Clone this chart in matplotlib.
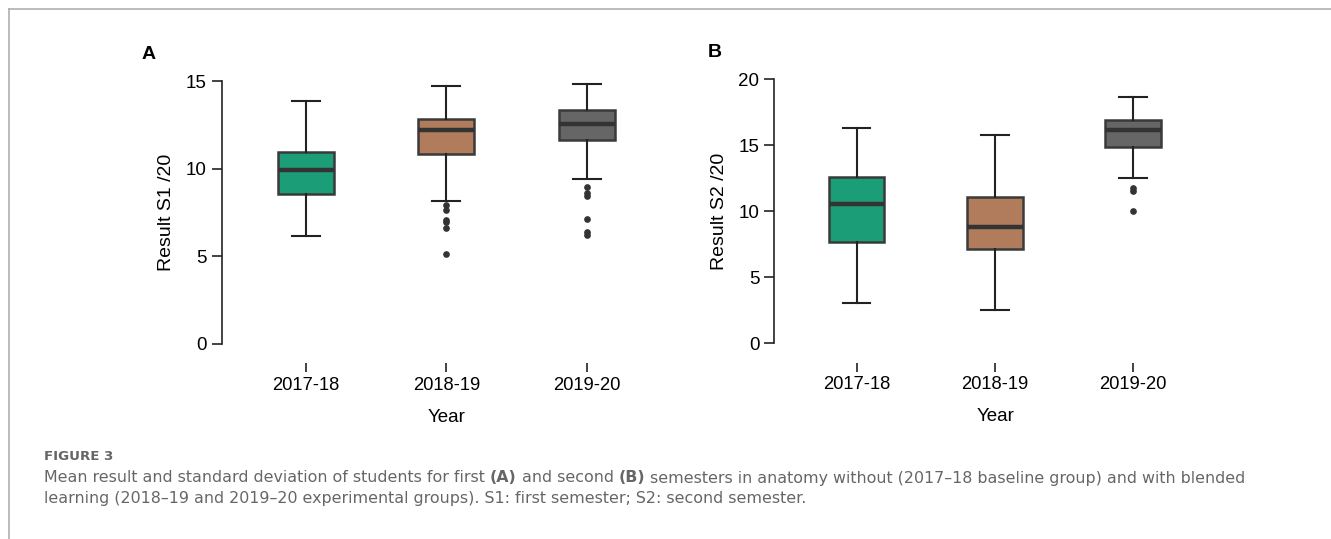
import matplotlib
matplotlib.use("Agg")
import matplotlib.pyplot as plt
from matplotlib.lines import Line2D

plt.rcParams['font.family'] = ['Liberation Sans', 'DejaVu Sans']

years = ['2017-18', '2018-19', '2019-20']
colors = ['#1b9e77', '#b07c5c', '#666666']

# panel A: semester 1 (whislo, q1, med, q3, whishi)
s1_lo = [6.18, 8.18, 9.39]
s1_q1 = [8.56, 10.86, 11.65]
s1_med = [9.93, 12.2, 12.53]
s1_q3 = [10.97, 12.83, 13.35]
s1_hi = [13.84, 14.73, 14.85]
s1_out = [[], [7.93, 7.64, 7.07, 6.98, 6.6, 5.13], [8.97, 8.6, 8.44, 7.13, 6.37, 6.22]]

# panel B: semester 2
s2_lo = [3.05, 2.5, 12.5]
s2_q1 = [7.7, 7.17, 14.87]
s2_med = [10.56, 8.84, 16.16]
s2_q3 = [12.58, 11.1, 16.92]
s2_hi = [16.33, 15.76, 18.66]
s2_out = [[], [], [11.74, 11.56, 10.05]]

W, H = 1331, 539
fig = plt.figure(figsize=(W / 100, H / 100), dpi=100)


def make_panel(rect, lo, q1, med, q3, hi, out, ymax, yticks, ylab, letter, letter_dx):
    left, right, bottom, top, x_lo = rect
    ax = fig.add_axes([left / W, 1 - bottom / H, (right - left) / W, (bottom - top) / H])
    stats = []
    for i in range(len(years)):
        stats.append(dict(whislo=lo[i], q1=q1[i], med=med[i], q3=q3[i],
                          whishi=hi[i], fliers=out[i]))
    bp = ax.bxp(stats, positions=[1, 2, 3], widths=0.4, capwidths=0.2,
                patch_artist=True,
                boxprops=dict(edgecolor='#3a3a3a', linewidth=1.8),
                medianprops=dict(color='#333333', linewidth=3.2, solid_capstyle='butt'),
                whiskerprops=dict(color='#222222', linewidth=1.5),
                capprops=dict(color='#222222', linewidth=1.5),
                flierprops=dict(marker='o', markerfacecolor='#333333',
                                markeredgecolor='#333333', markersize=3.8))
    for patch, c in zip(bp['boxes'], colors):
        patch.set_facecolor(c)
    ax.set_xlim(x_lo, 3.6)
    ax.set_ylim(0, ymax)
    ax.set_yticks(yticks)
    ax.set_xticks([1, 2, 3])
    ax.set_xticklabels(years)
    for s in ['top', 'right', 'bottom']:
        ax.spines[s].set_visible(False)
    ax.spines['left'].set_color('#222222')
    ax.spines['left'].set_linewidth(1.2)
    ax.spines['bottom'].set_position(('outward', 14))
    ax.tick_params(axis='y', length=7.2, width=1.2, color='#222222', pad=3.5, labelsize=13.5)
    ax.tick_params(axis='x', length=6.5, width=1.2, color='#222222', pad=3, labelsize=13.2)
    ax.set_ylabel(ylab, fontsize=14)
    ax.yaxis.set_label_coords(-0.123, 0.5)
    ax.set_xlabel('Year', fontsize=13.5)
    ax.xaxis.set_label_coords(0.5, -0.278)
    ax.xaxis.label.set_va('center')
    ax.yaxis.label.set_va('center')
    ax.text(letter_dx / (right - left), 1.1, letter, transform=ax.transAxes, fontsize=14,
            fontweight='bold', ha='center', va='center')
    return ax


make_panel((221.7, 671, 344, 81, 0.4), s1_lo, s1_q1, s1_med, s1_q3, s1_hi, s1_out,
           15, [0, 5, 10, 15], 'Result S1 /20', 'A', -73)
make_panel((774.3, 1216, 343.3, 79.3, 0.404), s2_lo, s2_q1, s2_med, s2_q3, s2_hi, s2_out,
           20, [0, 5, 10, 15, 20], 'Result S2 /20', 'B', -60)

# page frame
fig.add_artist(Line2D([9 / W, 1], [1 - 9 / H, 1 - 9 / H], color='#b0b0b0', linewidth=1.2))
fig.add_artist(Line2D([9 / W, 9 / W], [1 - 9 / H, 0], color='#b0b0b0', linewidth=1.2))

# caption
cap_font = ['DejaVu Sans']
renderer = fig.canvas.get_renderer()

fig_lbl = fig.text(44 / W, 1 - 457 / H, 'FIGURE 3', fontsize=8, color='#666666',
                   family=cap_font, fontweight='bold', va='center')
fig_lbl.set_fontsize(8 * 69 / fig_lbl.get_window_extent(renderer).width)

line1 = [('Mean result and standard deviation of students for first ', 'normal'),
         ('(A)', 'bold'),
         (' and second ', 'normal'),
         ('(B)', 'bold'),
         (' semesters in anatomy without (2017\u201318 baseline group) and with blended', 'normal')]
line2 = [('learning (2018\u201319 and 2019\u201320 experimental groups). S1: first semester; S2: second semester.', 'normal')]


def rich_line(x_px, y_px, parts, size):
    x = x_px
    for txt, weight in parts:
        t = fig.text(x / W, 1 - y_px / H, txt, fontsize=size, color='#666666',
                     family=cap_font, fontweight=weight, va='center')
        x += t.get_window_extent(renderer).width
    return x - x_px


# fit caption size so that the first line spans about the same width as the original
probe = fig.text(0, 0, ''.join(p[0] for p in line1), fontsize=10, family=cap_font)
cap_size = 10 * 1192 / probe.get_window_extent(renderer).width
probe.remove()

rich_line(44, 478, line1, cap_size)
rich_line(44, 499, line2, cap_size)

fig.savefig('out.png', dpi=100)
